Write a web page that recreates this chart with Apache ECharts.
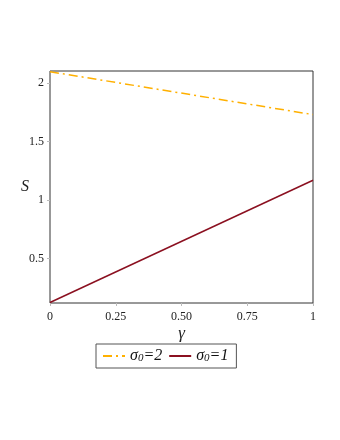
<!DOCTYPE html>
<html><head><meta charset="utf-8">
<script src="https://cdn.jsdelivr.net/npm/echarts@6/dist/echarts.min.js"></script>
<style>html,body{margin:0;padding:0;background:#fff}#c{width:340px;height:440px}</style>
</head><body><div id="c"></div>
<script>
const gammaValues = [0, 1];
const sigma2Values = [2.097, 1.73];
const sigma1Values = [0.122, 1.168];
const xTickValues = [0, 0.25, 0.5, 0.75, 1];
const xTickLabels = ['0', '0.25', '0.50', '0.75', '1'];
const yTickValues = [0.5, 1, 1.5, 2];
const yTickLabels = ['0.5', '1', '1.5', '2'];
const seriesNames = ['σ0=2', 'σ0=1'];
const legendRich = ['{s|σ}{o|0}{s|=2}', '{s|σ}{o|0}{s|=1}'];

const chart = echarts.init(document.getElementById('c'));
const serif = 'Liberation Serif';
chart.setOption({
  animation: false,
  grid: {left: 50, right: 27, top: 71, bottom: 137, show: true, borderColor: '#333', borderWidth: 1},
  xAxis: {
    type: 'value', min: 0, max: 1,
    axisLine: {show: false},
    axisTick: {show: true, length: 3, lineStyle: {color: '#bbb'}, customValues: xTickValues},
    axisLabel: {fontFamily: serif, fontSize: 12, color: '#222', margin: 8,
      customValues: xTickValues,
      formatter: v => xTickLabels[xTickValues.indexOf(v)] ?? ''},
    splitLine: {show: false},
    name: 'γ', nameLocation: 'middle', nameGap: 22, nameMoveOverlap: false,
    nameTextStyle: {fontFamily: serif, fontStyle: 'italic', fontSize: 17, color: '#222'}
  },
  yAxis: {
    type: 'value', min: 0.118, max: 2.103,
    axisLine: {show: false},
    axisTick: {show: true, length: 3, lineStyle: {color: '#bbb'}, customValues: yTickValues},
    axisLabel: {fontFamily: serif, fontSize: 12, color: '#222', margin: 6,
      customValues: yTickValues,
      formatter: v => yTickLabels[yTickValues.indexOf(v)] ?? ''},
    splitLine: {show: false},
    name: 'S', nameLocation: 'middle', nameGap: 21, nameRotate: 0, nameMoveOverlap: false,
    nameTextStyle: {fontFamily: serif, fontStyle: 'italic', fontSize: 16, color: '#222'}
  },
  legend: {
    left: 96, top: 344,
    orient: 'horizontal',
    padding: [4, 8, 4, 6],
    itemGap: 6, itemWidth: 22, itemHeight: 10,
    borderColor: '#555', borderWidth: 1,
    itemStyle: {opacity: 0},
    data: seriesNames,
    formatter: name => legendRich[seriesNames.indexOf(name)],
    textStyle: {
      fontFamily: serif, fontSize: 16, color: '#111',
      rich: {
        s: {fontFamily: serif, fontStyle: 'italic', fontSize: 16, color: '#111'},
        o: {fontFamily: serif, fontStyle: 'italic', fontSize: 11, color: '#111', verticalAlign: 'bottom', padding: [4, 0, 0, 0]}
      }
    }
  },
  series: [
    {name: seriesNames[0], type: 'line', symbol: 'none',
      data: gammaValues.map((g, i) => [g, sigma2Values[i]]),
      lineStyle: {color: '#FFB000', width: 1.5, type: [9, 4, 2, 4]}, itemStyle: {color: '#FFB000'}},
    {name: seriesNames[1], type: 'line', symbol: 'none',
      data: gammaValues.map((g, i) => [g, sigma1Values[i]]),
      lineStyle: {color: '#8B1020', width: 1.5}, itemStyle: {color: '#8B1020'}}
  ]
});
</script></body></html>
